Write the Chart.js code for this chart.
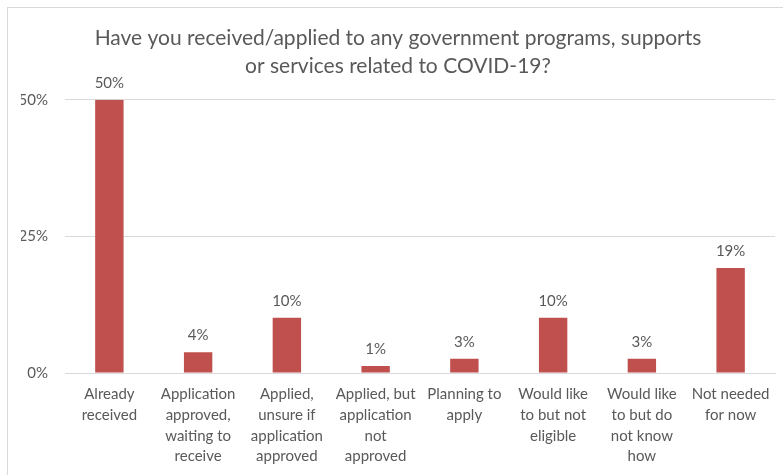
<!DOCTYPE html>
<html lang="en">
<head>
<meta charset="UTF-8">
<title>COVID-19 programs</title>
<script src="https://cdn.jsdelivr.net/npm/chart.js"></script>
<style>
  body { margin: 0; background: #fff; }
  #frame { position: absolute; left: 7px; top: 7px; width: 800px; height: 500px;
           border-left: 1px solid #d9d9d9; border-top: 1px solid #d9d9d9; }
  #wrap { position: absolute; left: 0; top: 0; width: 783px; height: 475px; }
</style>
</head>
<body>
<div id="frame"></div>
<div id="wrap"><canvas id="myChart" width="783" height="475"></canvas></div>
<script>
const categories = [
  ['Already', 'received'],
  ['Application', 'approved,', 'waiting to', 'receive'],
  ['Applied,', 'unsure if', 'application', 'approved'],
  ['Applied, but', 'application', 'not', 'approved'],
  ['Planning to', 'apply'],
  ['Would like', 'to but not', 'eligible'],
  ['Would like', 'to but do', 'not know', 'how'],
  ['Not needed', 'for now']
];
const values = [50, 3.8, 10.1, 1.3, 2.6, 10.1, 2.6, 19.2];
const valueLabels = ['50%', '4%', '10%', '1%', '3%', '10%', '3%', '19%'];
const yTicks = [0, 25, 50];

const textColor = '#595959';
const fontFamily = 'Lato, "Open Sans", sans-serif';

// draw the percent labels above each bar
const barLabels = {
  id: 'barLabels',
  afterDatasetsDraw(chart) {
    const ctx = chart.ctx;
    const meta = chart.getDatasetMeta(0);
    ctx.save();
    ctx.fillStyle = textColor;
    ctx.font = '15px ' + fontFamily;
    ctx.textAlign = 'center';
    ctx.textBaseline = 'alphabetic';
    meta.data.forEach((bar, i) => {
      ctx.fillText(valueLabels[i], bar.x, bar.y - 12);
    });
    ctx.restore();
  }
};

const myChart = new Chart(document.getElementById('myChart'), {
  type: 'bar',
  data: {
    labels: categories,
    datasets: [{
      data: values,
      backgroundColor: '#c0504d',
      categoryPercentage: 1,
      barPercentage: 0.32
    }]
  },
  options: {
    responsive: false,
    animation: false,
    layout: { padding: { left: 21, right: 8, top: 7, bottom: 0 } },
    plugins: {
      legend: { display: false },
      tooltip: { enabled: false },
      title: {
        display: true,
        text: ['Have you received/applied to any government programs, supports',
               'or services related to COVID-19?'],
        color: textColor,
        font: { family: fontFamily, size: 21, weight: 'normal', lineHeight: 1.35 },
        padding: { top: 17, bottom: 19 }
      }
    },
    scales: {
      x: {
        grid: { display: false, drawTicks: false },
        border: { color: '#d9d9d9' },
        ticks: {
          color: textColor,
          autoSkip: false,
          maxRotation: 0,
          padding: 11,
          font: { family: fontFamily, size: 15, lineHeight: 1.38 }
        },
        afterFit(s) { s.height = 102; }
      },
      y: {
        min: 0,
        max: 50,
        afterBuildTicks(s) { s.ticks = yTicks.map(v => ({ value: v })); },
        grid: { color: '#d9d9d9', drawTicks: false },
        border: { display: false },
        ticks: {
          color: textColor,
          padding: 17,
          font: { family: fontFamily, size: 15 },
          callback: v => v + '%'
        },
        afterFit(s) { s.width = 44; }
      }
    }
  },
  plugins: [barLabels]
});
</script>
</body>
</html>
